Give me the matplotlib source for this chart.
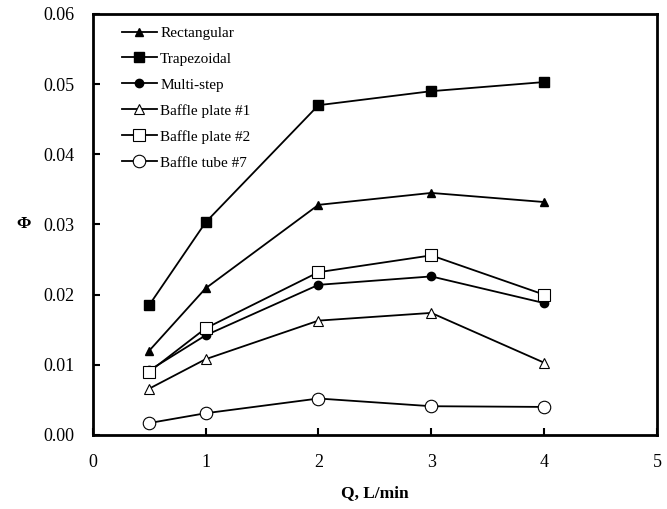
import numpy as np
import matplotlib.pyplot as plt

plt.rcParams['font.family'] = ['Liberation Serif', 'DejaVu Serif']

# Flow rate (x) and Phi values per channel type
q = [0.5, 1, 2, 3, 4]
rectangular = [0.0120, 0.0209, 0.0328, 0.0345, 0.0332]
trapezoidal = [0.0185, 0.0303, 0.0470, 0.0490, 0.0503]
multi_step = [0.0092, 0.0142, 0.0214, 0.0226, 0.0188]
baffle_plate1 = [0.0066, 0.0108, 0.0163, 0.0174, 0.0103]
baffle_plate2 = [0.0090, 0.0152, 0.0232, 0.0256, 0.0200]
baffle_tube7 = [0.0017, 0.0031, 0.0052, 0.0041, 0.0040]

fig = plt.figure(figsize=(6.67, 5.09), dpi=100)
ax = fig.add_axes([0.139, 0.1454, 0.846, 0.8271])

style = dict(color='black', lw=1.3, mec='black')
ax.plot(q, rectangular, marker='^', ms=6, mfc='black', label='Rectangular', **style)
ax.plot(q, trapezoidal, marker='s', ms=7, mfc='black', label='Trapezoidal', **style)
ax.plot(q, multi_step, marker='o', ms=6, mfc='black', label='Multi-step', **style)
ax.plot(q, baffle_plate1, marker='^', ms=7, mfc='white', mew=0.8, label='Baffle plate #1', **style)
ax.plot(q, baffle_plate2, marker='s', ms=8, mfc='white', mew=0.8, label='Baffle plate #2', **style)
ax.plot(q, baffle_tube7, marker='o', ms=9, mfc='white', mew=0.8, label='Baffle tube #7', **style)

ax.set_xlim(0, 5)
ax.set_ylim(0, 0.06)
ax.set_xticks([0, 1, 2, 3, 4, 5])
ax.set_yticks(np.arange(0, 0.061, 0.01))
ax.set_yticklabels(['%.2f' % v for v in np.arange(0, 0.061, 0.01)])
ax.tick_params(direction='in', length=5, width=1.5, labelsize=13, pad=13)
ax.tick_params(axis='x', pad=14)
for s in ax.spines.values():
    s.set_linewidth(2)

ax.set_xlabel('Q, L/min', fontsize=12.5, fontweight='bold', labelpad=10)
ax.set_ylabel('Φ', fontsize=12.5, fontweight='bold', rotation=0, labelpad=14, va='center')

ax.legend(loc='upper left', frameon=False, fontsize=11, labelspacing=0.8,
          handlelength=2.3, handletextpad=0.2, borderaxespad=0.4, bbox_to_anchor=(0.03, 1.0))

fig.savefig('out.png', dpi=100)
